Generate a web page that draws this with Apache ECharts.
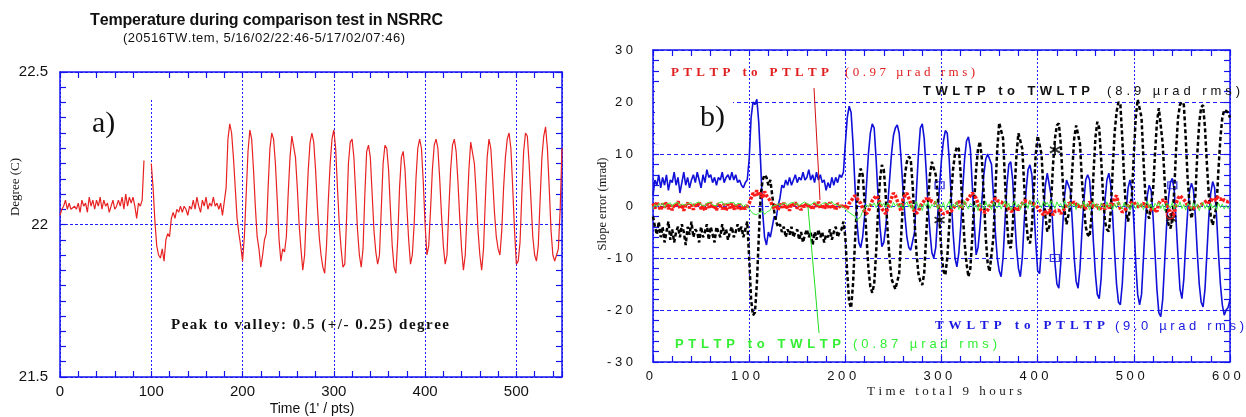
<!DOCTYPE html>
<html><head><meta charset="utf-8">
<script src="https://cdn.jsdelivr.net/npm/echarts@6/dist/echarts.min.js"></script>
<style>html,body{margin:0;padding:0;background:#fff}#c{width:1246px;height:417px}</style>
</head><body><div id="c"></div>
<script>
// ---------------- DATA ----------------
const STEP = 2;

// a) temperature (deg C), x = 0..550 (1' / pts)
const tempX = { min: 0, max: 550, labelStep: 100, tickStep: 20 };
const tempY = { min: 21.5, max: 22.5, labelStep: 0.5, tickStep: 0.05 };
const tempC = [
 22.03,22.05,22.06,22.08,22.05,22.07,22.05,22.05,22.06,22.05,
 22.07,22.04,22.08,22.06,22.07,22.04,22.09,22.06,22.08,22.05,
 22.08,22.06,22.09,22.05,22.08,22.06,22.07,22.04,22.06,22.08,
 22.05,22.06,22.08,22.06,22.09,22.05,22.10,22.06,22.09,22.07,
 22.09,22.06,22.02,22.07,22.06,22.08,22.21,null,null,null,
 22.20,22.12,22.01,21.93,21.90,21.89,21.92,21.88,21.95,21.97,
 21.96,22.02,22.04,22.02,22.05,22.04,22.06,22.04,22.06,22.05,
 22.03,22.06,22.05,22.08,22.05,22.09,22.06,22.04,22.08,22.06,
 22.09,22.05,22.07,22.06,22.09,22.06,22.07,22.05,22.07,22.03,
 22.03,22.12,22.28,22.33,22.30,22.22,22.12,22.02,21.97,21.93,
 21.88,21.96,22.10,22.24,22.31,22.28,22.18,22.06,21.96,21.92,
 21.86,21.90,21.95,21.97,22.12,22.25,22.30,22.28,22.20,22.08,
 21.95,21.88,21.92,21.91,21.96,22.10,22.22,22.29,22.29,22.22,
 22.12,22.00,21.92,21.85,21.90,22.05,22.18,22.27,22.30,22.27,
 22.18,22.06,21.96,21.90,21.86,21.84,21.93,22.08,22.20,22.28,
 22.31,22.25,22.12,22.00,21.92,21.86,21.87,22.02,22.20,22.27,
 22.28,22.22,22.10,21.98,21.90,21.86,21.92,22.10,22.24,22.26,
 22.22,22.10,21.98,21.91,21.87,21.90,22.05,22.20,22.26,22.25,
 22.18,22.05,21.93,21.86,21.84,21.95,22.12,22.22,22.24,22.18,
 22.06,21.95,21.87,21.90,22.00,22.15,22.25,22.28,22.25,22.14,
 22.00,21.90,21.93,22.05,22.18,22.26,22.28,22.25,22.15,22.03,
 21.93,21.87,21.90,22.05,22.18,22.26,22.28,22.24,22.14,22.02,
 21.92,21.85,21.90,22.04,22.18,22.27,22.27,22.20,22.10,21.98,
 21.90,21.85,21.92,22.08,22.22,22.28,22.25,22.15,22.04,21.96,
 21.92,21.90,21.98,22.12,22.22,22.28,22.30,22.25,22.12,21.98,
 21.87,21.88,21.94,22.10,22.24,22.30,22.29,22.20,22.08,21.96,
 21.90,21.88,21.93,22.08,22.22,22.29,22.32,22.25,22.12,21.98,
 21.90,21.88,21.90,21.92,22.05,22.25
];

// b) slope error (mrad), x = 0..600 (time total 9 hours)
const slopeX = { min: 0, max: 600, labelStep: 100, tickStep: 20 };
const slopeY = { min: -30, max: 30, labelStep: 10, tickStep: 2 };
const twToPt = [ // TWLTP to PTLTP (blue)
 2,5,4,6,3.5,5.5,4,6,3,5,
 4.5,6.5,4,5.5,2.5,4.5,6.5,4,5.5,3.5,
 5,6,4.5,6.5,5,3.5,6,4.5,7,5.5,
 6,4.5,5.5,4,5.5,5,6.5,4.5,5.5,6,
 5,6.5,5,6,4.5,5,4,3.5,4.5,5,
 9,17,20,19.5,20.5,16,8,-1,-6,-7.5,
 -5,-6,-4,-2,-2.5,0,1.5,4,3.5,5,
 4,5.5,4,5,6,4.5,5.5,5,6.5,5,
 5.5,7,5,6,4.5,6.5,5,6,4.5,5,
 3,4.5,3.5,5.5,4,5.5,4.5,6,5.5,6.5,
 12,17,19.2,18,12,4,-3,-7,-8,-6,
 -2,4,10,14,15.8,15,9,2,-4,-7.8,
 -7,-4,0,5,10,13.5,15,15.6,14,9,
 3,-2,-6,-8,-8.5,-8.8,-5,3,10,15,
 15.8,13,7,0,-5,-9,-10,-8,-2,4,
 9,12.5,14.5,14,9,2,-5,-10,-11.7,-9,
 -4,3,9,12.5,13.3,11,4,-3,-9.4,-8,
 -4,1,6,9,10,10.1,8,2,-5,-10,
 -12.5,-13.6,-10,-3,4,8,8.5,5,-2,-8,
 -12,-13.6,-10,-3,3,7,7.9,6,0,-7,
 -12.5,-13,-8,-1,4,6.3,6,2,-5,-11,
 -15,-15.8,-11,-4,2,5,5.3,3,-3,-10,
 -14.5,-15.8,-12,-5,1,5,6,5,0,-7,
 -13,-17,-17.8,-14,-6,1,5,6.3,4,-2,
 -9,-15,-18.5,-19,-15,-8,-1,3.5,5,3,
 -3,-11,-17,-19,-17,-10,-3,2,4,3,
 -2,-9,-16,-20.5,-21.3,-18,-11,-4,1.5,4.5,
 5.3,3,-3,-10,-16,-17.8,-14,-7,-1,3,
 4.4,3,-2,-9,-15,-18.5,-19.4,-16,-9,-2,
 2.5,4.7,3.5,-2,-9,-15,-19,-21,-20,-19.5,
 -18
];
const twToTw = [ // TWLTP to TWLTP (black)
 -2,-4,-5.5,-3,-6,-4,-7,-5,-3,-6.5,
 -4.5,-7,-5,-4,-6,-3.5,-5,-7.5,-4,-5.5,
 -3,-6,-4.5,-5,-7,-4,-6,-5,-3.5,-6.5,
 -4,-5.5,-7,-4,-5,-6,-3.5,-5.5,-4.5,-6.5,
 -5,-4,-6,-5,-3.5,-5,-4,-6,-4.5,-3,
 -10,-18,-21,-20.5,-15,-6,2,5,6,5.5,
 4,5,2,-1,-3,-4,-3.5,-5,-4,-6,
 -4.5,-5.5,-4,-6,-5,-4.5,-6.5,-5,-7,-5.5,
 -4.5,-6,-5,-7.5,-5,-6.5,-4.5,-6,-5,-7,
 -5.5,-6,-4.5,-6.5,-5,-4,-6,-5,-4.5,-3,
 -6,-13,-18.5,-19.6,-15,-7,0,5,7.2,6,
 1,-6,-12,-15.5,-16.7,-15,-9,-1,5,7.9,
 7,2,-5,-10,-14,-15,-16,-16.2,-13,-6,
 1,6,8.5,9.5,9,4,-3,-9,-13,-14.5,
 -15.2,-13,-6,1,6,8.5,8.8,6,2,-3,
 -9,-12.5,-13.3,-10,-4,2,7,10,11.4,11,
 6,-1,-7,-11,-13.6,-12,-6,1,7,11,
 12.4,9,2,-6,-11,-12.6,-12.3,-6,3,11,
 16,16.2,13,5,-3,-7.5,-8.1,-4,3,10,
 14,14.3,11,4,-3,-6.5,-7.2,-4,3,10,
 13.5,13.7,10,3,-2,-4.9,-4,1,8,13,
 15.5,15.9,12,5,-1,-3.5,-3.7,0,7,13,
 15.5,15.6,12,5,0,-4,-5.5,-5.9,-2,6,
 13,16.2,15,9,2,-3,-4.5,-4.9,-1,7,
 14,18,20,19.5,13,5,-1,-3,-3,2,
 10,17,20.5,20.7,17,9,2,-1.5,-2.4,-2.4,
 3,10,16,18.8,18.5,12,5,-1,-3.5,-4.3,
 -3,3,11,17,19.5,20,19.5,13,5,0,
 -2.4,-2.4,2,10,16,19,19.4,15,8,2,
 -2,-3.7,-3.7,0,7,13,17,18.5,18.8,18,
 17
];
const ptToPt = [ // PTLTP to PTLTP (red)
 0.5,-0.5,0.8,0,-0.8,0.5,-0.3,0.7,-0.6,0.2,
 -0.8,0.4,-0.2,0.9,-0.5,0.3,-0.9,0.1,0.6,-0.4,
 0.2,-0.7,0.5,-0.2,0.8,-0.6,0.1,-0.9,0.4,-0.3,
 0.7,-0.5,0.2,-0.8,0.5,0,-0.6,0.4,-0.9,0.3,
 -0.4,0.6,-0.7,0.2,-0.5,0.4,-0.8,0,-0.6,-0.3,
 0.5,1.5,2.5,2,3,2,2.5,1.5,2.8,2,
 1.5,1,0.2,-0.5,0.3,-0.8,0.4,-0.3,0.6,-0.6,
 0.2,-0.9,0.5,-0.2,0.7,-0.5,0.1,-0.8,0.4,-0.2,
 0.6,-0.4,0.2,-0.7,0.5,-0.1,0.8,-0.5,0.3,-0.6,
 0.4,-0.3,0.7,-0.5,0.2,-0.8,0.5,0,-0.4,0.3,
 0,-0.5,0.5,1,1.5,2,1.5,1,0.5,-0.5,
 -1,-1.5,-1,0,1,1.5,2,1.5,0.5,-0.5,
 -1,-1.5,-0.5,0.5,1.5,2.5,2,1,0,-1,
 1.5,2,2.5,1.5,0.5,-0.5,-1,-1.4,-1,0,
 0.5,1,1.5,1,1.5,0.8,1,0.5,0,-0.5,
 -1,-1.5,-1.8,-1.2,-1.5,-1,-0.5,0,0.5,1,
 -0.5,0,0.5,1,1.5,2,2.5,2,1.5,0.5,
 -0.5,-1,-1.1,-1.2,-0.8,0,0.5,1,1.5,1,
 1.2,0.8,0.5,0.2,0,-0.5,-1,-1.1,-0.8,-0.2,
 -0.8,0,0.5,1,1.2,0.8,1,0.5,0.6,0.2,
 -0.3,-0.8,-1.2,-1.7,-1,-1.5,-0.8,-1.2,-1.7,-1,
 -1.3,-0.8,-1.5,-1,-0.5,0,0.5,0.8,0.3,0.8,
 0.5,-0.2,0.3,-0.4,0.2,-0.5,0,0.8,0.4,-0.2,
 -0.5,0.2,-0.8,-0.3,0.3,-0.6,0.1,-0.4,0.5,0,
 1.5,2,0.5,-0.5,-1.2,-1,-0.5,0,0.5,0.3,
 0.8,0.2,0.5,-0.3,0.2,0.6,-0.2,0.3,-0.5,-0.8,
 -1,-0.6,-1.1,0.5,1,0.8,1.2,0.5,-0.5,-1.4,
 -2,-1.5,0.5,1.5,2,1.6,1.2,0.8,0,-0.3,
 -0.5,-0.8,-0.3,-0.6,0,0.3,0.5,0.8,1,0.6,
 1.2,1.5,1,1.8,1.5,1.2,1.6,1,1.3,0.8,
 1
];
const ptToTw = [ // PTLTP to TWLTP (green)
 -0.5,0.3,-0.2,0.5,0,0.6,-0.3,0.4,0.1,0.6,
 -0.1,0.5,0.2,0.7,0,0.4,0.6,0.1,0.5,0.2,
 0.6,0,0.5,0.3,0.8,0.2,0.5,0,0.6,0.3,
 0.7,0.2,0.5,0,0.6,0.3,0.8,0.1,0.5,0.2,
 0.6,0.3,0.7,0,0.5,0.2,0.4,-0.2,0.3,0,
 -0.5,-1,-1.5,-1.2,-1.7,-1.3,-1.5,-1,-1.6,-1.2,
 -1.5,-0.8,0,0.3,0.1,0.5,0,0.4,0.2,0.6,
 0.1,0.5,0.3,0.7,0.2,0.6,0,0.4,0.3,0.8,
 0.4,0.6,0.2,0.5,0.8,0.3,0.6,0.1,0.5,0.3,
 0.7,0.2,0.5,0.9,0.3,0.6,0.2,0.4,0,-0.3,
 -0.5,-1,-0.8,-1.5,-1.2,-2,-2.8,-3,-2,-1,
 -0.5,0.3,-0.2,0.5,0,0.6,-0.3,0.4,0.8,0,
 0.5,-0.3,0.6,0.1,-0.4,0.7,0,0.5,-0.3,0.4,
 -0.6,0.3,0.8,-0.2,0.5,-0.8,0.2,0.9,-0.4,0.3,
 -0.9,0.5,0,0.8,-0.5,0.3,-0.2,1,-0.6,0.4,
 -0.3,0.7,-0.8,0.2,0.9,-0.5,0.4,-0.2,0.8,-0.7,
 0.3,-0.4,1,0,-0.6,0.5,0.8,-0.3,0.2,-0.9,
 0.6,0.1,-0.5,0.9,-0.2,0.4,-0.7,0.8,0,-0.4,
 0.7,-0.6,0.3,1,-0.3,0.5,-0.8,0.2,0.9,-0.2,
 0.4,-0.7,0.8,0,0.5,-0.5,1.1,0.2,-0.3,0.6,
 1.2,0.3,-0.4,0.9,0.1,0.7,-0.2,1,0.4,-0.5,
 0.8,0,0.5,-0.6,1,0.2,-0.3,0.7,-0.1,0.5,
 -0.7,0.6,0.2,-0.4,0.9,-0.2,0.5,-0.8,0.3,0.8,
 -0.3,0.4,-0.9,0.6,0.1,-0.5,0.8,-0.2,0.4,-0.7,
 0.5,-0.4,0.9,0,-0.6,0.7,-0.2,0.3,-0.8,0.6,
 0.1,-0.5,0.8,-0.3,0.5,-0.7,0.2,0.9,-0.4,0.3,
 -0.8,0.5,0,0.7,-0.5,0.3,-0.9,0.6,0.2,-0.4,
 0.7,-0.6,0.4,-0.2,0.8,-0.5,0.3,-0.8,0.5,0,
 -0.6,0.6,-0.3,0.4,-0.9,0.2,0.7,-0.5,0.3,-0.7,
 0.5,-0.4,0.2,-0.8,0.6,-0.3,0.4,-0.6,0.1,-0.5,
 0
];
// sparse plot markers seen on the curves: [time, value]
const blueSquares = [[298, 4], [418, -10], [540, 4]];
const blackStars  = [[298, -2.7], [418, 10.8], [539, -2.4]];
const redCircles  = [[538, -1.7]];

// ---------------- STYLE ----------------
const SERIF = '"Liberation Serif", "Times New Roman", serif';
const SANS = '"Liberation Sans", Arial, sans-serif';
const AXIS_C = '#1414f0';
const GRID_C = '#2020ff';

const pts = arr => arr.map((v, i) => [i * STEP, v]);
const spaceOut = v => String(v).split('').join(' ');

// per-character text layout between two x positions (letter-spaced labels)
const mctx = document.createElement('canvas').getContext('2d');
function spaced(str, font, fill, x0, x1, y, out) {
  mctx.font = font;
  const chars = Array.from(str);
  const w = chars.map(c => mctx.measureText(c).width);
  const nat = w.reduce((a, b) => a + b, 0);
  const gap = chars.length > 1 ? (x1 - x0 - nat) / (chars.length - 1) : 0;
  let x = x0;
  chars.forEach((c, i) => {
    if (c !== ' ') out.push({ type: 'text', x: x, y: y, z: 10,
      style: { text: c, font: font, fill: fill, align: 'left', textAlign: 'left',
               verticalAlign: 'middle', textVerticalAlign: 'middle' } });
    x += w[i] + gap;
  });
}
function txt(text, font, fill, x, y, align, rot, out) {
  out.push({ type: 'text', x: x, y: y, rotation: rot || 0, z: 10,
    style: { text: text, font: font, fill: fill, align: align, textAlign: align,
             verticalAlign: 'middle', textVerticalAlign: 'middle' } });
}

const g = [];
// white boxes behind the panel letters
g.push({ type: 'rect', z: 1, shape: { x: 655, y: 86, width: 78, height: 58 }, style: { fill: '#fff' } });
g.push({ type: 'rect', z: 1, shape: { x: 147, y: 73, width: 9, height: 26 }, style: { fill: '#fff' } });
spaced('Temperature during comparison test in NSRRC', 'bold 16px ' + SANS, '#111', 90, 443, 21, g);
spaced('(20516TW.tem, 5/16/02/22:46-5/17/02/07:46)', '13px ' + SANS, '#111', 123, 405, 38, g);
txt('a)', '30px ' + SERIF, '#111', 92, 124, 'left', 0, g);
txt('b)', '30px ' + SERIF, '#111', 700, 118, 'left', 0, g);
spaced('Peak to valley: 0.5 (+/- 0.25) degree', 'bold 15px ' + SERIF, '#111', 171, 449, 325, g);
txt('Degree (C)', '13px ' + SERIF, '#111', 16, 187, 'center', Math.PI / 2, g);
txt("Time (1' / pts)", '14px ' + SANS, '#111', 312, 409, 'center', 0, g);
txt('Slope error (mrad)', '12.5px ' + SERIF, '#111', 603, 204, 'center', Math.PI / 2, g);
spaced('Time total 9 hours', '13px ' + SERIF, '#222', 867, 1022, 392, g);
// legend-like annotations
spaced('PTLTP to PTLTP', 'bold 13px ' + SERIF, '#e02020', 671, 829, 73, g);
spaced('(0.97 µrad rms)', '13px ' + SERIF, '#e02020', 845, 975, 73, g);
spaced('TWLTP to TWLTP', 'bold 13px ' + SANS, '#111', 923, 1090, 91, g);
spaced('(8.9 µrad rms)', '13px ' + SANS, '#111', 1107, 1240, 91, g);
spaced('TWLTP to PTLTP', 'bold 13px ' + SERIF, '#1818e0', 935, 1105, 326, g);
spaced('(9.0 µrad rms)', '13px ' + SANS, '#1818e0', 1115, 1244, 326, g);
spaced('PTLTP to TWLTP', 'bold 13px ' + SANS, '#33ee33', 675, 841, 344, g);
spaced('(0.87 µrad rms)', '13px ' + SANS, '#33ee33', 853, 997, 344, g);
g.push({ type: 'line', z: 9, shape: { x1: 814, y1: 88, x2: 820, y2: 200 }, style: { stroke: '#d01010', lineWidth: 1 } });
g.push({ type: 'line', z: 9, shape: { x1: 808, y1: 207, x2: 819, y2: 333 }, style: { stroke: '#22dd22', lineWidth: 1 } });

function mainX(grid, ext, fs, margin, fmt, dash) {
  return { type: 'value', gridIndex: grid, position: 'bottom', min: ext.min, max: ext.max, interval: ext.labelStep,
    axisLine: { show: true, onZero: false, lineStyle: { color: AXIS_C, width: 1.5 } },
    axisTick: { show: false },
    axisLabel: { color: '#111', fontSize: fs, fontFamily: SANS, margin: margin, showMaxLabel: ext.max % ext.labelStep === 0, formatter: fmt },
    splitLine: { show: true, lineStyle: { color: GRID_C, type: dash, width: 1 } } };
}
function mainY(grid, ext, fs, margin, fmt, dash) {
  return { type: 'value', gridIndex: grid, position: 'left', min: ext.min, max: ext.max, interval: ext.labelStep,
    axisLine: { show: true, onZero: false, lineStyle: { color: AXIS_C, width: 1.5 } },
    axisTick: { show: false },
    axisLabel: { color: '#111', fontSize: fs, fontFamily: SANS, margin: margin, formatter: fmt },
    splitLine: { show: true, lineStyle: { color: GRID_C, type: dash, width: 1 } } };
}
function tickAx(grid, ext, pos, line) {
  return { type: 'value', gridIndex: grid, position: pos, min: ext.min, max: ext.max, interval: ext.tickStep,
    axisLine: { show: line, onZero: false, lineStyle: { color: AXIS_C, width: 1.5 } },
    axisTick: { show: true, inside: true, length: 6, lineStyle: { color: AXIS_C, width: 1.2 } },
    axisLabel: { show: false }, splitLine: { show: false } };
}

const option = {
  animation: false,
  backgroundColor: '#fff',
  textStyle: { fontFamily: SANS },
  grid: [
    { left: 60, top: 72, width: 502, height: 305, containLabel: false, outerBoundsMode: 'none' },
    { left: 653, top: 50, width: 577, height: 312, containLabel: false, outerBoundsMode: 'none' }
  ],
  xAxis: [
    mainX(0, tempX, 15, 7, v => String(v), [2, 2]),
    tickAx(0, tempX, 'bottom', false),
    tickAx(0, tempX, 'top', true),
    mainX(1, slopeX, 13, 8, v => spaceOut(v) + '  ', [2, 2]),
    tickAx(1, slopeX, 'bottom', false),
    tickAx(1, slopeX, 'top', true)
  ],
  yAxis: [
    mainY(0, tempY, 15, 12, v => String(v), [3, 2]),
    tickAx(0, tempY, 'left', false),
    tickAx(0, tempY, 'right', true),
    mainY(1, slopeY, 13, 20, v => spaceOut(v), [4, 3]),
    tickAx(1, slopeY, 'left', false),
    tickAx(1, slopeY, 'right', true)
  ],
  graphic: { elements: g },
  series: [
    { type: 'line', xAxisIndex: 0, yAxisIndex: 0, data: pts(tempC), symbol: 'none', connectNulls: false,
      lineStyle: { color: '#e82222', width: 1.2 }, z: 3 },
    { type: 'line', xAxisIndex: 3, yAxisIndex: 3, data: pts(twToPt), symbol: 'none',
      lineStyle: { color: '#1010d8', width: 1.6 }, z: 3 },
    { type: 'line', xAxisIndex: 3, yAxisIndex: 3, data: pts(twToTw), symbol: 'none',
      lineStyle: { color: '#000', width: 2.5, type: [4, 2.5] }, z: 4 },
    { type: 'line', xAxisIndex: 3, yAxisIndex: 3, data: pts(ptToPt), symbol: 'none',
      lineStyle: { color: '#ff1a1a', width: 3.5, type: [3, 1.5] }, z: 5 },
    { type: 'line', xAxisIndex: 3, yAxisIndex: 3, data: pts(ptToTw), symbol: 'none',
      lineStyle: { color: '#3cf03c', width: 1 }, z: 6 },
    { type: 'scatter', xAxisIndex: 3, yAxisIndex: 3, data: blueSquares, symbol: 'rect', symbolSize: [9, 7],
      itemStyle: { color: 'rgba(255,255,255,0)', borderColor: '#1010d8', borderWidth: 1.2 }, z: 7 },
    { type: 'scatter', xAxisIndex: 3, yAxisIndex: 3, data: blackStars, symbolSize: 11,
      symbol: 'path://M-1,-6L1,-6L1,-1.7L4.7,-3.9L5.7,-2.2L2,0L5.7,2.2L4.7,3.9L1,1.7L1,6L-1,6L-1,1.7L-4.7,3.9L-5.7,2.2L-2,0L-5.7,-2.2L-4.7,-3.9L-1,-1.7Z',
      itemStyle: { color: '#000' }, z: 7 },
    { type: 'scatter', xAxisIndex: 3, yAxisIndex: 3, data: redCircles, symbol: 'circle', symbolSize: 8,
      itemStyle: { color: 'rgba(255,255,255,0)', borderColor: '#ff1a1a', borderWidth: 1.5 }, z: 7 }
  ]
};
const chart = echarts.init(document.getElementById('c'), null, { renderer: 'canvas' });
chart.setOption(option);
</script>
</body></html>
